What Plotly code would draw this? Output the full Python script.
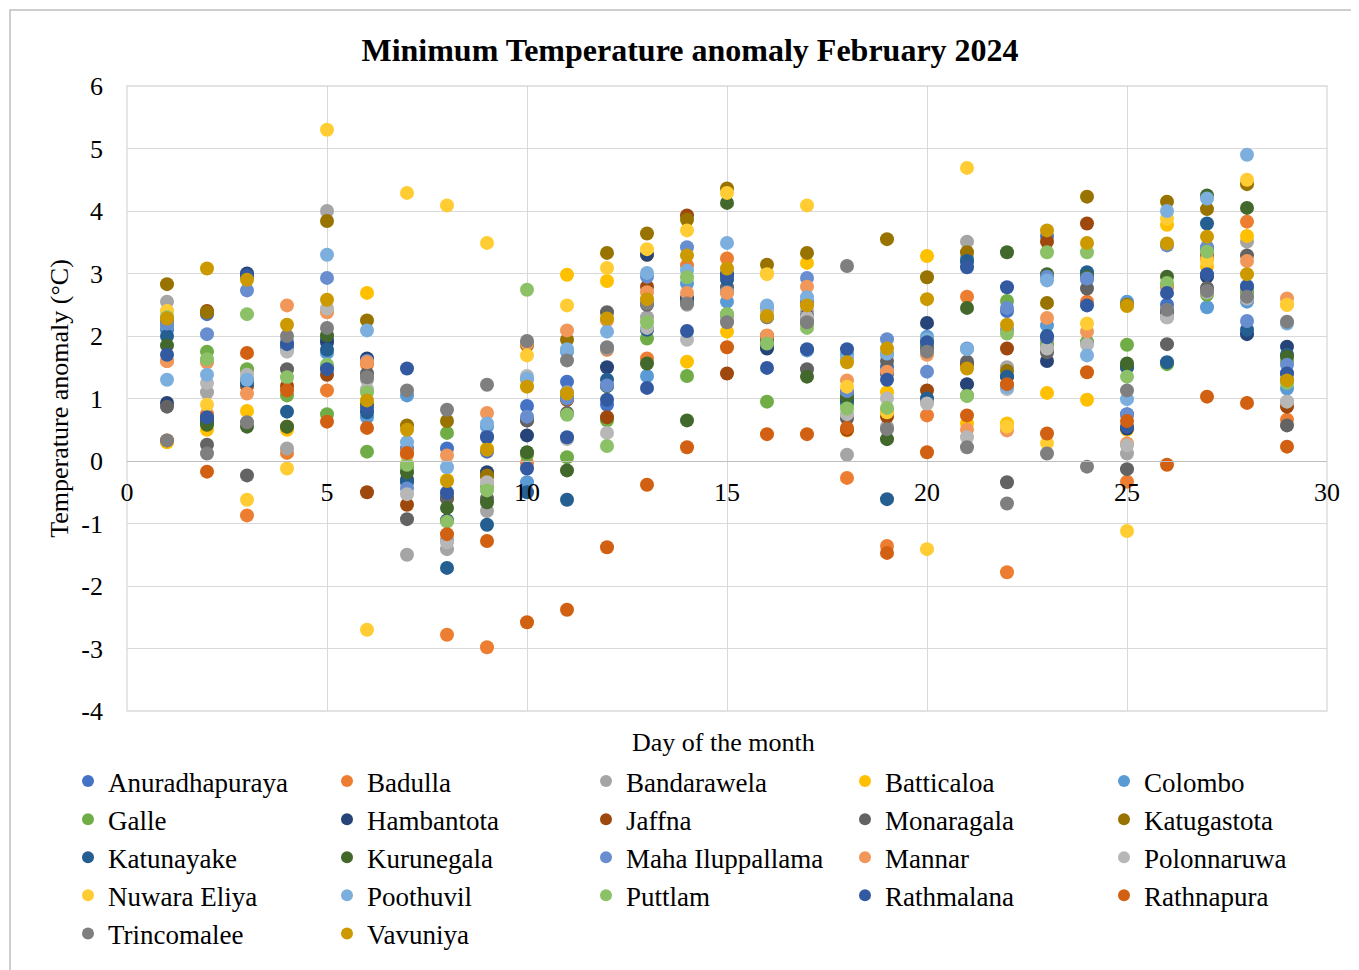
import plotly.graph_objects as go

days = list(range(1, 30))

series_names = ["Anuradhapuraya", "Badulla", "Bandarawela", "Batticaloa", "Colombo",
                "Galle", "Hambantota", "Jaffna", "Monaragala", "Katugastota",
                "Katunayake", "Kurunegala", "Maha Iluppallama", "Mannar", "Polonnaruwa",
                "Nuwara Eliya", "Poothuvil", "Puttlam", "Rathmalana", "Rathnapura",
                "Trincomalee", "Vavuniya"]

anuradhapuraya = [2.1, 2.35, 2.95, 1.9, 1.95, 1.62, 0.2, 0.2, 0.15, 0.88, 1.27, 0.9, 2.1, 2.6, 3.0, 1.85, 2.55, 1.1, 1.5, 1.95, 3.2, 2.4, 3.6, 2.95, 0.75, 2.5, 3.4, 2.8, 1.4]
badulla = [1.6, 0.75, -0.87, 0.13, 1.13, 1.55, 0.1, -2.78, -2.98, -0.03, 1.0, 1.78, 1.64, 3.13, 3.24, 2.0, 2.5, -0.27, -1.36, 0.73, 2.63, -1.78, 1.8, 2.55, -0.33, 2.8, 3.25, 3.83, 0.66]
bandarawela = [2.55, 1.1, 1.45, 0.2, 4.0, 1.3, -1.5, -1.41, -0.8, 1.3, 1.1, 1.8, 2.3, 2.5, 2.3, 2.3, 2.4, 0.1, 0.55, 0.95, 3.51, 1.5, 1.9, 1.9, 0.12, 2.36, 2.75, 3.51, 0.95]
batticaloa = [0.3, 0.5, 0.8, 0.5, 2.4, 2.69, -0.05, -0.3, 0.2, 1.2, 2.98, 2.88, 3.3, 1.59, 2.07, 3.0, 3.17, 0.49, 1.1, 3.28, 0.6, 0.6, 1.09, 0.98, 0.5, 3.78, 3.11, 3.6, 2.5]
colombo = [2.15, 0.6, 1.25, 1.8, 1.73, 0.7, 1.05, -0.5, 0.55, -0.34, 1.75, 1.2, 1.36, 2.84, 2.55, 1.82, 1.77, 1.7, 1.7, 1.99, 3.25, 2.1, 2.17, 2.9, 2.55, 2.3, 2.46, 2.55, 1.16]
galle = [2.2, 1.75, 1.47, 1.05, 0.75, 0.15, -0.1, 0.45, -0.4, 0.1, 0.06, 0.65, 1.96, 1.36, 2.35, 0.95, 2.2, 0.9, 0.8, 1.85, 1.05, 2.56, 1.85, 1.9, 1.86, 1.55, 2.66, 2.7, 1.6]
hambantota = [0.93, 0.65, 3.0, 1.85, 1.9, 1.64, -0.3, -0.95, -0.18, 0.41, 1.0, 1.5, 3.3, 2.6, 2.97, 1.8, 2.32, 0.97, 1.4, 2.21, 1.23, 1.35, 1.6, 2.95, 0.52, 2.4, 2.95, 2.03, 1.83]
jaffna = [2.25, 2.4, 1.2, 1.2, 1.38, -0.5, -0.7, -0.6, -0.25, 0.65, 0.98, 0.7, 2.79, 3.93, 1.4, 2.0, 2.3, 0.5, 0.71, 1.13, 1.55, 1.8, 3.51, 3.8, 1.5, 2.8, 3.3, 2.75, 0.87]
monaragala = [0.87, 0.26, -0.23, 1.47, 1.5, 1.4, -0.93, -0.6, -0.6, 0.65, 0.77, 2.38, 2.5, 2.55, 2.78, 2.0, 1.47, 0.68, 1.6, 1.8, 1.59, -0.34, 1.74, 2.76, -0.13, 1.87, 2.77, 3.29, 0.57]
katugastota = [2.83, 2.38, 1.3, 0.55, 3.84, 2.25, 0.57, 0.64, -0.23, 1.85, 1.94, 3.33, 3.64, 3.86, 4.36, 3.14, 3.33, 1.1, 3.55, 2.94, 3.34, 1.44, 2.53, 4.23, 2.5, 4.15, 4.03, 4.43, 1.3]
katunayake = [2.0, 0.62, 1.25, 0.79, 1.78, 0.78, -0.34, -1.71, -1.02, -0.5, -0.62, 1.3, 2.1, 2.55, 2.9, 1.9, 2.3, 0.95, -0.61, 1.0, 3.2, 1.35, 2.0, 3.02, 1.5, 1.58, 3.8, 2.1, 1.7]
kurunegala = [1.85, 0.58, 0.55, 0.55, 2.01, 0.9, -0.18, -0.75, -0.66, 0.14, -0.15, 1.2, 1.56, 0.65, 4.13, 1.9, 1.35, 1.02, 0.35, 1.9, 2.45, 3.34, 2.99, 2.95, 1.56, 2.95, 4.25, 4.05, 1.67]
maha_iluppallama = [2.2, 2.03, 2.73, 1.85, 2.93, 1.6, -0.44, -1.27, 0.4, 0.71, 1.0, 1.21, 2.95, 3.42, 2.7, 2.45, 2.93, 1.12, 1.95, 1.43, 1.8, 2.45, 2.95, 2.92, 0.74, 3.45, 3.42, 2.24, 1.54]
mannar = [1.6, 1.58, 1.08, 2.49, 2.38, 1.58, 0.15, 0.09, 0.77, 1.88, 2.09, 2.25, 2.7, 2.69, 2.69, 2.01, 2.79, 1.29, 1.43, 1.7, 0.5, 0.49, 2.29, 2.07, 0.28, 2.8, 3.24, 3.2, 2.6]
polonnaruwa = [2.4, 1.25, 1.38, 1.75, 2.44, 1.15, -0.53, -1.3, -0.34, 1.36, 0.35, 0.45, 2.13, 1.94, 2.25, 2.4, 2.3, 0.75, 1.0, 0.92, 0.38, 1.15, 1.8, 1.86, 0.25, 2.3, 2.7, 2.6, 0.95]
nuwara_eliya = [2.4, 0.9, -0.62, -0.12, 5.3, -2.7, 4.29, 4.09, 3.49, 1.69, 2.49, 3.09, 3.39, 3.69, 4.29, 2.99, 4.09, 1.19, 0.78, -1.41, 4.69, 0.55, 0.29, 2.2, -1.12, 3.88, 3.2, 4.5, 2.5]
poothuvil = [1.3, 1.38, 1.3, 1.9, 3.3, 2.09, 0.3, -0.1, 0.6, 1.32, 1.79, 2.07, 3.01, 3.05, 3.49, 2.49, 2.62, 1.65, 1.72, 1.95, 1.79, 1.18, 2.89, 1.69, 0.99, 4.0, 4.2, 4.9, 2.2]
puttlam = [2.3, 1.63, 2.35, 1.34, 1.54, 1.1, -0.06, -0.97, -0.47, 2.74, 0.74, 0.24, 2.22, 2.94, 2.35, 1.88, 2.13, 0.84, 0.85, 1.9, 1.04, 2.04, 3.34, 3.34, 1.35, 2.85, 3.35, 2.75, 1.25]
rathmalana = [1.7, 0.7, 2.97, 1.87, 1.47, 0.85, 1.48, -0.51, 0.38, -0.12, 0.38, 0.98, 1.17, 2.08, 2.97, 1.49, 1.79, 1.79, 1.3, 1.9, 3.1, 2.78, 1.98, 2.49, 0.55, 2.69, 2.99, 2.79, 1.4]
rathnapura = [0.33, -0.17, 1.73, 1.13, 0.63, 0.53, 0.13, -1.17, -1.28, -2.58, -2.38, -1.38, -0.38, 0.22, 1.82, 0.43, 0.43, 0.53, -1.47, 0.14, 0.73, 1.23, 0.44, 1.42, 0.64, -0.06, 1.03, 0.93, 0.23]
trincomalee = [0.33, 0.12, 0.62, 2.0, 2.13, 1.34, 1.13, 0.82, 1.22, 1.92, 1.61, 1.82, 2.52, 2.52, 2.22, 2.3, 2.22, 3.12, 0.51, 1.75, 0.22, -0.68, 0.12, -0.09, 1.13, 2.42, 2.72, 2.63, 2.23]
vavuniya = [2.28, 3.08, 2.9, 2.18, 2.58, 0.97, 0.5, -0.32, 0.18, 1.19, 1.08, 2.28, 2.59, 3.29, 3.08, 2.32, 2.49, 1.58, 1.8, 2.59, 1.48, 2.18, 3.69, 3.49, 2.48, 3.48, 3.59, 2.99, 1.29]

series_values = [anuradhapuraya, badulla, bandarawela, batticaloa, colombo, galle,
                 hambantota, jaffna, monaragala, katugastota, katunayake, kurunegala,
                 maha_iluppallama, mannar, polonnaruwa, nuwara_eliya, poothuvil, puttlam,
                 rathmalana, rathnapura, trincomalee, vavuniya]

colors = ["#4472C4", "#ED7D31", "#A5A5A5", "#FFC000", "#5B9BD5", "#70AD47",
          "#264478", "#9E480E", "#636363", "#997300", "#255E91", "#43682B",
          "#698ED0", "#F1975A", "#B7B7B7", "#FFCD33", "#7CAFDD", "#8CC168",
          "#335AA1", "#D26012", "#7F7F7F", "#CC9A00"]

x_ticks = [0, 5, 10, 15, 20, 25, 30]
y_ticks = [-4, -3, -2, -1, 0, 1, 2, 3, 4, 5, 6]
y_tick_labels = ["-4", "-3", "-2", "-1", "0", "1", "2", "3", "4", "5", "6"]

FONT = "Liberation Serif, Times New Roman, serif"

fig = go.Figure()
for name, vals, col in zip(series_names, series_values, colors):
    fig.add_trace(go.Scatter(x=days, y=vals, mode="markers", name=name,
                             marker=dict(size=14, color=col, line=dict(width=0))))

OFF = 8  # page body margin
W, H = 1359 - OFF, 970 - OFF
L, T = 127 - OFF, 86 - OFF
PR, PB = 1327 - OFF, 711 - OFF  # plot right / bottom in figure px
R, B = W - PR, H - PB
pw, ph = PR - L, PB - T

def px_x(px):  # page pixel -> paper x
    return (px - OFF - L) / pw

def px_y(py):  # page pixel -> paper y
    return (PB - (py - OFF)) / ph

fig.update_layout(
    width=W, height=H,
    margin=dict(l=L, r=R, t=T, b=B, autoexpand=False),
    paper_bgcolor="white", plot_bgcolor="white",
    font=dict(family=FONT, size=26, color="black"),
    title=dict(text="<b>Minimum Temperature anomaly February 2024</b>",
               font=dict(family=FONT, size=32, color="black"),
               x=(690 - OFF) / W, xanchor="center", y=1 - (50 - OFF) / H, yanchor="middle"),
    xaxis=dict(range=[0, 30], tickvals=x_ticks, showgrid=True, gridcolor="#D9D9D9",
               gridwidth=1.3, zeroline=False, showline=True, linecolor="#BFBFBF",
               linewidth=1.3, anchor="free", position=0.4, ticks="",
               ticklabelstandoff=8, tickfont=dict(family=FONT, size=26)),
    yaxis=dict(range=[-4, 6], tickvals=y_ticks, ticktext=y_tick_labels, showgrid=True,
               gridcolor="#D9D9D9", gridwidth=1.3, zeroline=False, ticks="",
               ticklabelstandoff=23, domain=[0, 1], tickfont=dict(family=FONT, size=26),
               title=dict(text="Temperature anomaly (°C)", font=dict(family=FONT, size=26),
                          standoff=5)),
    legend=dict(orientation="h", x=px_x(68), xanchor="left", y=px_y(757), yanchor="top",
                entrywidth=214, entrywidthmode="pixels",
                font=dict(family=FONT, size=27), itemsizing="constant",
                bgcolor="rgba(0,0,0,0)"),
    showlegend=True,
)

# plot frame
fig.add_shape(type="rect", xref="paper", yref="paper", x0=0, x1=1, y0=0, y1=1,
              line=dict(color="#D9D9D9", width=1.3), layer="below")
# outer chart border
fig.add_shape(type="rect", xref="paper", yref="paper",
              x0=px_x(10), x1=px_x(1357), y0=px_y(975), y1=px_y(10),
              line=dict(color="#BFBFBF", width=1.5), layer="below")

fig.add_annotation(text="Day of the month", xref="paper", yref="paper",
                   x=px_x(723), y=px_y(742), xanchor="center", yanchor="middle",
                   showarrow=False, font=dict(family=FONT, size=26))

fig.write_html("out.html")
